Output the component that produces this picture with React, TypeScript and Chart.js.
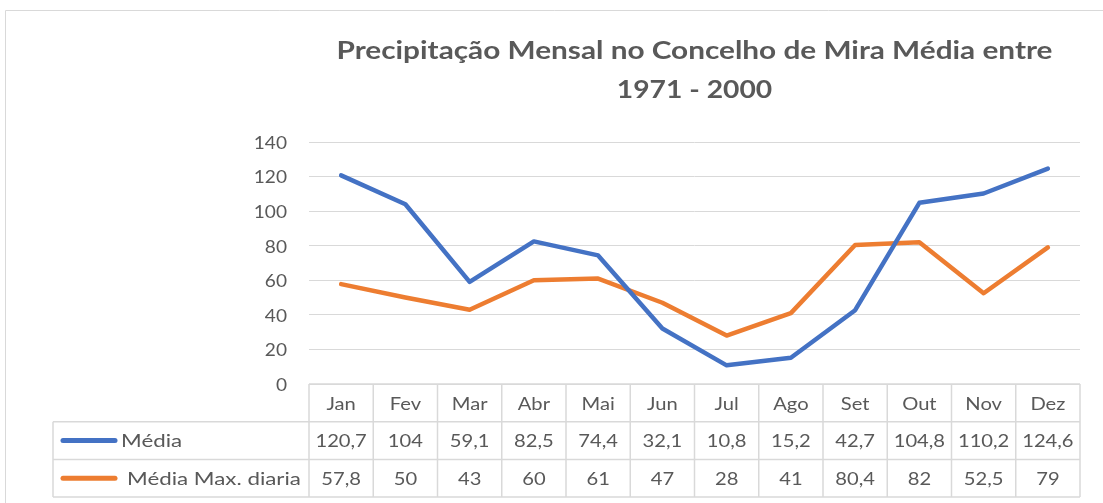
import React, { useEffect, useRef } from "react";
import { Chart, registerables } from "chart.js";

Chart.register(...registerables);

const categories = ["Jan", "Fev", "Mar", "Abr", "Mai", "Jun", "Jul", "Ago", "Set", "Out", "Nov", "Dez"];
const mediaValues = [120.7, 104, 59.1, 82.5, 74.4, 32.1, 10.8, 15.2, 42.7, 104.8, 110.2, 124.6];
const mediaMaxValues = [57.8, 50, 43, 60, 61, 47, 28, 41, 80.4, 82, 52.5, 79];
const seriesNames = ["Média", "Média Max. diaria"];
const yTickValues = [0, 20, 40, 60, 80, 100, 120, 140];
const titleLines = ["Precipitação Mensal no Concelho de Mira Média entre", "1971 - 2000"];

const FONT = "Lato, 'Open Sans', 'DejaVu Sans', sans-serif";
const TEXT = "#595959";
const GRID = "#D9D9D9";
const BLUE = "#4472C4";
const ORANGE = "#ED7D31";

const fmt = (v: number) => String(v).replace(".", ",");

function drawText(ctx: CanvasRenderingContext2D, text: string, x: number, y: number, align: CanvasTextAlign, k: number) {
  ctx.save();
  ctx.translate(x, y);
  ctx.scale(k, 1);
  ctx.textAlign = align;
  ctx.fillText(text, 0, 0);
  ctx.restore();
}

const textPlugin = {
  id: "textAndTable",
  afterDraw(chart: any) {
    const { ctx, chartArea } = chart;
    const xs = chart.scales.x;
    const ys = chart.scales.y;
    const left = chartArea.left;
    const right = chartArea.right;
    const top = chartArea.bottom;
    const rowH = 37.7;
    const legendLeft = 53;
    const r1 = top + rowH;
    const r2 = r1 + rowH;
    const r3 = r2 + rowH;
    ctx.save();
    // outer chart border
    ctx.strokeStyle = GRID;
    ctx.lineWidth = 1;
    ctx.beginPath();
    ctx.moveTo(5.5, chart.height);
    ctx.lineTo(5.5, 10.5);
    ctx.lineTo(chart.width, 10.5);
    ctx.stroke();

    // title
    ctx.fillStyle = TEXT;
    ctx.textBaseline = "middle";
    ctx.font = `bold 25px ${FONT}`;
    const cx = (left + right) / 2;
    drawText(ctx, titleLines[0], cx, 51, "center", 1.19);
    drawText(ctx, titleLines[1], cx, 90, "center", 1.13);

    // y tick labels
    ctx.font = `18px ${FONT}`;
    yTickValues.forEach((v) => {
      drawText(ctx, String(v), left - 22, ys.getPixelForValue(v) + 1, "right", 1.06);
    });

    // table grid
    ctx.strokeStyle = GRID;
    ctx.lineWidth = 1.5;
    ctx.beginPath();
    ctx.moveTo(left, top);
    ctx.lineTo(right, top);
    [r1, r2, r3].forEach((y) => {
      ctx.moveTo(legendLeft, y);
      ctx.lineTo(right, y);
    });
    ctx.moveTo(legendLeft, r1);
    ctx.lineTo(legendLeft, r3);
    const n = categories.length;
    const step = (right - left) / n;
    for (let i = 0; i <= n; i++) {
      const x = i === n ? right : xs.getPixelForValue(i) - step / 2;
      ctx.moveTo(x, top);
      ctx.lineTo(x, r3);
    }
    ctx.stroke();

    ctx.fillStyle = TEXT;
    ctx.font = `18px ${FONT}`;
    categories.forEach((c, i) => {
      const x = xs.getPixelForValue(i);
      drawText(ctx, c, x, (top + r1) / 2 + 1, "center", 1.12);
      drawText(ctx, fmt(mediaValues[i]), x, (r1 + r2) / 2 + 1, "center", 1.12);
      drawText(ctx, fmt(mediaMaxValues[i]), x, (r2 + r3) / 2 + 1, "center", 1.12);
    });

    // legend keys
    const rows = [
      { y: (r1 + r2) / 2, color: BLUE, text: seriesNames[0], tx: 121 },
      { y: (r2 + r3) / 2, color: ORANGE, text: seriesNames[1], tx: 127 },
    ];
    rows.forEach((r) => {
      ctx.strokeStyle = r.color;
      ctx.lineWidth = 5;
      ctx.lineCap = "round";
      ctx.beginPath();
      ctx.moveTo(63, r.y);
      ctx.lineTo(115, r.y);
      ctx.stroke();
      ctx.fillStyle = TEXT;
      drawText(ctx, r.text, r.tx, r.y + 1, "left", 1.24);
    });
    ctx.restore();
  },
};

export default function App() {
  const canvasRef = useRef<HTMLCanvasElement | null>(null);

  useEffect(() => {
    if (!canvasRef.current) return;
    const chart = new Chart(canvasRef.current, {
      type: "line",
      data: {
        labels: categories,
        datasets: [
          {
            label: seriesNames[0],
            data: mediaValues,
            borderColor: BLUE,
            backgroundColor: BLUE,
            borderWidth: 4.5,
            pointRadius: 0,
            tension: 0,
            borderCapStyle: "round",
            borderJoinStyle: "round",
          },
          {
            label: seriesNames[1],
            data: mediaMaxValues,
            borderColor: ORANGE,
            backgroundColor: ORANGE,
            borderWidth: 4.5,
            pointRadius: 0,
            tension: 0,
            borderCapStyle: "round",
            borderJoinStyle: "round",
          },
        ],
      },
      options: {
        responsive: false,
        animation: false,
        layout: { padding: { left: 209, right: 23, top: 142, bottom: 119 } },
        plugins: {
          legend: { display: false },
          tooltip: { enabled: false },
          title: { display: false },
        },
        scales: {
          x: { display: false, offset: true },
          y: {
            min: 0,
            max: 140,
            ticks: { stepSize: 20, display: false },
            grid: { color: GRID, lineWidth: 1, drawTicks: false },
            border: { display: false },
            afterFit: (s: any) => {
              s.width = 100;
            },
          },
        },
      },
      plugins: [textPlugin],
    });
    return () => chart.destroy();
  }, []);

  return (
    <div style={{ position: "fixed", left: 0, top: 0, width: 1103, height: 503, background: "#fff" }}>
      <canvas ref={canvasRef} width={1103} height={503} style={{ display: "block" }} />
    </div>
  );
}
